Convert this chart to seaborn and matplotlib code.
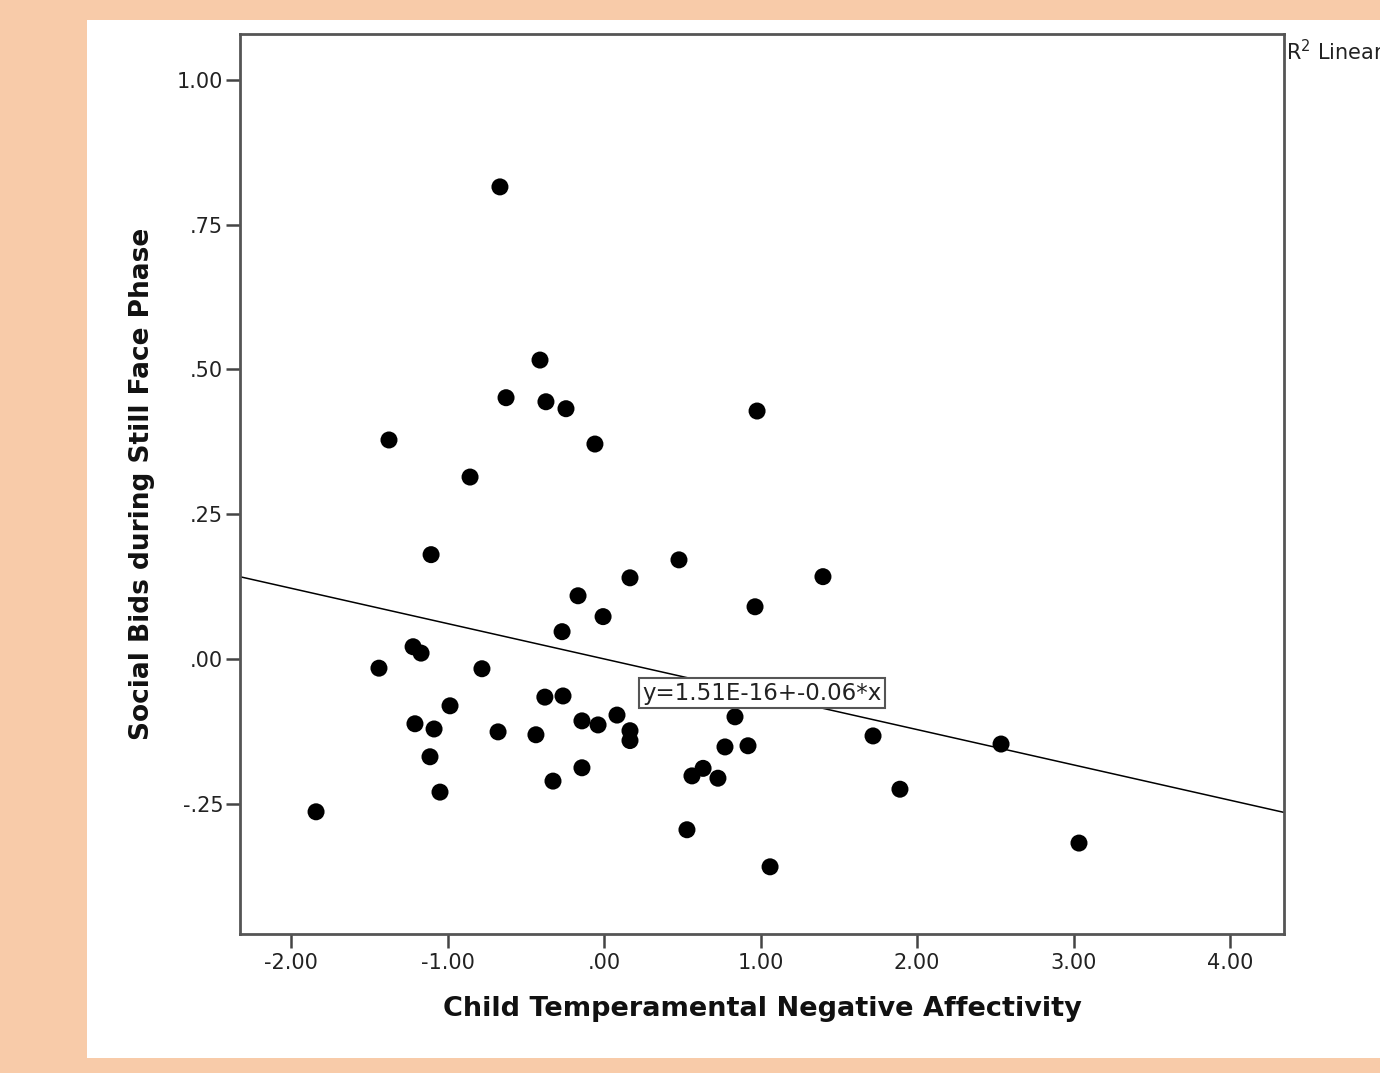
import numpy as np
import pandas as pd
import matplotlib.pyplot as plt
import seaborn as sns

# ── data ────────────────────────────────────────────────────────────────────
neg_affect = [-0.665, -0.409, -0.626, -0.371, -0.243, -0.058, 0.978, -1.374,
              -0.856, -1.105, 0.479, 0.166, 1.399, -0.166, 0.965, -0.006,
              -0.268, -1.220, -1.169, -1.438, -0.780, -0.378, -0.262, -0.984,
              -1.208, -1.086, -0.677, -0.435, -0.141, -0.038, 0.083, 0.166,
              0.166, 0.837, 0.773, 0.920, 1.719, 2.537, -1.112, -0.141,
              -0.326, 0.562, 0.633, 0.728, -1.048, 1.891, -1.840, 0.530,
              1.061, 3.035]
social_bids = [0.815, 0.516, 0.451, 0.444, 0.432, 0.371, 0.428, 0.378,
               0.314, 0.180, 0.171, 0.140, 0.142, 0.109, 0.090, 0.073,
               0.047, 0.021, 0.010, -0.016, -0.017, -0.066, -0.064, -0.081,
               -0.112, -0.121, -0.126, -0.131, -0.107, -0.114, -0.097, -0.124,
               -0.141, -0.100, -0.152, -0.150, -0.133, -0.147, -0.169, -0.188,
               -0.211, -0.202, -0.189, -0.206, -0.230, -0.225, -0.264, -0.295,
               -0.359, -0.318]

fit_intercept = 0.0
fit_slope = -0.061
fit_label = "y=1.51E-16+-0.06*x"

x_ticks = [-2, -1, 0, 1, 2, 3, 4]
x_tick_labels = ["-2.00", "-1.00", ".00", "1.00", "2.00", "3.00", "4.00"]
y_ticks = [1.0, 0.75, 0.5, 0.25, 0.0, -0.25]
y_tick_labels = ["1.00", ".75", ".50", ".25", ".00", "-.25"]

df = pd.DataFrame({"na": neg_affect, "bids": social_bids})

sns.set_style("white")
plt.rcParams["font.family"] = ["DejaVu Sans"]

fig = plt.figure(figsize=(13.8, 10.73), dpi=100)
fig.patch.set_facecolor("#F8CBA9")
# white panel behind the chart
fig.patches.append(plt.Rectangle((87 / 1380, 1 - 1058 / 1073), 1 - 87 / 1380, (1058 - 20) / 1073,
                                 transform=fig.transFigure, facecolor="white",
                                 edgecolor="none", zorder=-5))

ax = fig.add_axes([240 / 1380, 1 - 934 / 1073, (1284 - 240) / 1380, (934 - 34) / 1073])
ax.set_facecolor("white")

xlim = (-2.326, 4.345)
ylim = (-0.475, 1.079)

sns.scatterplot(data=df, x="na", y="bids", color="black", s=150,
                edgecolor="none", ax=ax, zorder=3)

# fit line across the full axis width
xs = np.array(xlim)
ax.plot(xs, fit_intercept + fit_slope * xs, color="black", lw=1.1, zorder=2)

ax.text(1.01, -0.059, fit_label, ha="center", va="center", fontsize=16.5,
        color="#222222", zorder=5,
        bbox=dict(boxstyle="square,pad=0.15", facecolor="white",
                  edgecolor="#555555", linewidth=1.5))

ax.set_xlim(*xlim)
ax.set_ylim(*ylim)
ax.set_xticks(x_ticks)
ax.set_xticklabels(x_tick_labels)
ax.set_yticks(y_ticks)
ax.set_yticklabels(y_tick_labels)
ax.tick_params(axis="both", direction="out", length=10, width=1.8, color="#444444",
               labelsize=15, labelcolor="#222222", left=True, bottom=True)
ax.tick_params(axis="x", pad=4)
ax.tick_params(axis="y", pad=2)
for sp in ax.spines.values():
    sp.set_color("#555555")
    sp.set_linewidth(2)
    sp.set_visible(True)

ax.set_xlabel("Child Temperamental Negative Affectivity", fontsize=19.5,
              fontweight="bold", labelpad=16, color="#111111")
ax.set_ylabel("Social Bids during Still Face Phase", fontsize=19,
              fontweight="bold", labelpad=16, color="#111111")

fig.text(1286 / 1380, 1 - 52 / 1073, "R$^2$ Linear", fontsize=15,
         ha="left", va="center", color="#222222")

fig.savefig("out.png", dpi=100, facecolor=fig.get_facecolor())
